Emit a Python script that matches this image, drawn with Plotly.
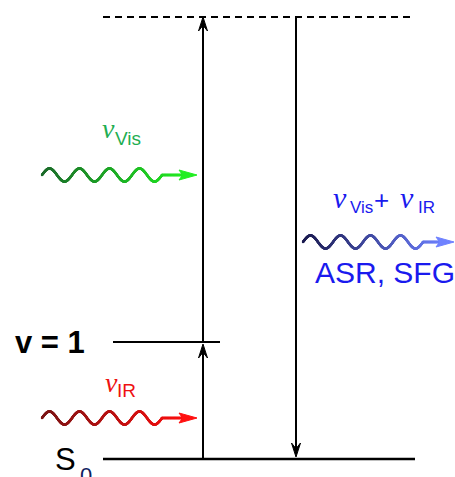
import numpy as np
import plotly.graph_objects as go

# ---- data: energy levels (arbitrary units, S0 = 0) ----
level_names = ["S0", "v = 1", "virtual"]
level_energy = [0, 117, 442]

# photons: label, start colour, end colour
photon_names = ["ν_Vis", "ν_IR", "ν_Vis + ν_IR"]
photon_colors_start = ["#1d6b2c", "#7a1616", "#1c1c50"]
photon_colors_end = ["#22ee22", "#ff1010", "#6f82ff"]

E_S0, E_V1, E_VIRT = level_energy
W, H = 455, 477
Y_BOTTOM = -18          # energy at bottom edge of the picture
Y_TOP = Y_BOTTOM + H    # energy at top edge

fig = go.Figure()


def line(x0, x1, y0, y1, width=2, color="black", dash=None):
    fig.add_trace(go.Scatter(x=[x0, x1], y=[y0, y1], mode="lines",
                             line=dict(color=color, width=width, dash=dash),
                             hoverinfo="skip", showlegend=False))


def head(xt, yt, dx, dy, L, Wd, notch, color):
    # filled arrowhead with tip at (xt, yt) pointing in direction (dx, dy)
    px, py = -dy, dx
    bx, by = xt - dx * L, yt - dy * L
    nx, ny = xt - dx * L * notch, yt - dy * L * notch
    xs = [xt, bx + px * Wd / 2, nx, bx - px * Wd / 2, xt]
    ys = [yt, by + py * Wd / 2, ny, by - py * Wd / 2, yt]
    fig.add_trace(go.Scatter(x=xs, y=ys, mode="lines", fill="toself",
                             fillcolor=color, line=dict(color=color, width=1),
                             hoverinfo="skip", showlegend=False))


def arrow(x, y0, y1):
    d = 1 if y1 > y0 else -1
    line(x, x, y0, y1 - d * 4, width=2)
    head(x, y1, 0, d, 14, 9, 0.6, "black")


def hexrgb(h):
    return np.array([int(h[i:i + 2], 16) for i in (1, 3, 5)], float)


def wave(x0, yc, c0, c1, periods=4, period=30, amp=6.5, tip=None):
    xw_end = x0 + periods * period
    xs = np.linspace(x0, xw_end, 700)
    ys = yc + amp * np.sin(2 * np.pi * (xs - x0) / period)
    xt = np.linspace(xw_end, tip - 10, 80)
    xs = np.concatenate([xs, xt])
    ys = np.concatenate([ys, np.full_like(xt, yc)])
    t = (xs - xs.min()) / (xs.max() - xs.min())
    a, b = hexrgb(c0), hexrgb(c1)
    cols = ["rgb(%d,%d,%d)" % tuple(a + (b - a) * ti) for ti in t]
    fig.add_trace(go.Scatter(x=xs, y=ys, mode="markers",
                             marker=dict(size=2.4, color=cols, line=dict(width=0)),
                             hoverinfo="skip", showlegend=False))
    head(tip, yc, 1, 0, 18, 10, 0.8, c1)


# levels
line(103, 415, E_VIRT, E_VIRT, width=2, dash="7px,5px")
line(113, 220, E_V1, E_V1, width=2)
line(103, 415, E_S0, E_S0, width=2.5)

# transitions
arrow(203, E_S0, E_V1 - 2)
arrow(203, E_V1, E_VIRT)
arrow(296, E_VIRT, E_S0 + 2)

# photons
wave(42, 284, photon_colors_start[0], photon_colors_end[0], tip=197)
wave(42, 41, photon_colors_start[1], photon_colors_end[1], tip=197)
wave(303, 217, photon_colors_start[2], photon_colors_end[2], tip=454)

SERIF = "Liberation Serif, Times New Roman, serif"
SANS = "Liberation Sans, Arial, sans-serif"


def label(x, y, text, size, color, family=SANS):
    fig.add_annotation(x=x, y=y, text=text, showarrow=False, xanchor="left",
                       yanchor="middle", font=dict(family=family, size=size, color=color))


GREEN, RED, BLUE = "#1fae52", "#ee1111", "#1a1aee"
# nu_Vis
label(100, 331, "<i>ν</i>", 28, GREEN, SERIF)
label(113, 320.5, "Vis", 19, GREEN)
# nu_IR
label(103, 76.5, "<i>ν</i>", 28, RED, SERIF)
label(115, 69, "IR", 19, RED)
# nu_Vis + nu_IR
label(331, 261.5, "<i>ν</i>", 30, BLUE, SERIF)
label(348, 251.5, "Vis", 17, BLUE)
label(372, 259.5, "+", 26, BLUE)
label(398, 261.5, "<i>ν</i>", 30, BLUE, SERIF)
label(416, 251.5, "IR", 17, BLUE)
label(313, 186.5, "ASR, SFG", 30, BLUE)
# levels
label(13, 117, "<b>v = 1</b>", 31, "black")
label(53, -0.5, "S", 31, "black")
label(78, -16, "0", 22, "#102060")

fig.update_layout(
    width=W, height=H, margin=dict(l=0, r=0, t=0, b=0),
    paper_bgcolor="white", plot_bgcolor="white",
    xaxis=dict(range=[0, W], visible=False),
    yaxis=dict(range=[Y_BOTTOM, Y_TOP], visible=False),
    showlegend=False,
)
fig.write_html("out.html", config={"displayModeBar": False},
               post_script="document.body.style.margin='0';")
